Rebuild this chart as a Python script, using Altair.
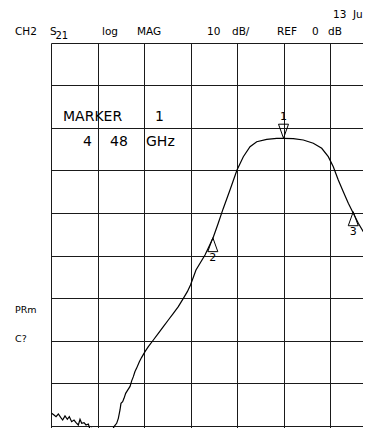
import altair as alt
import pandas as pd

FONT = "DejaVu Sans"

# S21 trace: x in graticule divisions from left edge, y in dB (10 dB/div)
trace_div = [0.014, 0.065, 0.108, 0.158, 0.208, 0.251, 0.301, 0.351, 0.394, 0.444,
             0.495, 0.538, 0.588, 0.624, 0.660, 0.710, 0.753, 0.803, 0.839, 0.875,
             0.910, 0.946, 0.982, 1.018,
             1.269, 1.305, 1.355, 1.412, 1.448, 1.484, 1.505, 1.541, 1.570, 1.606,
             1.642, 1.700, 1.735, 1.771, 1.806, 1.842, 1.900, 1.950, 2.022, 2.093,
             2.201, 2.308, 2.416, 2.523, 2.631, 2.738, 2.846, 2.932, 3.000, 3.118,
             3.312, 3.484, 3.591, 3.699, 3.849, 4.000, 4.136, 4.280, 4.424, 4.639,
             4.854, 4.996, 5.211, 5.426, 5.641, 5.822, 5.963, 6.071, 6.178, 6.286,
             6.394, 6.501, 6.609, 6.716, 6.882]
trace_db = [-87.14, -87.53, -87.92, -87.29, -88.08, -88.71, -87.76, -88.55, -87.92, -89.10,
            -88.71, -89.33, -89.88, -88.55, -89.49, -89.33, -89.88, -89.65, -90.90, -90.67,
            -91.69, -91.22, -91.84, -92.47,
            -92.47, -91.45, -90.27, -89.49, -88.31, -86.35, -84.78, -84.39, -83.61, -82.43,
            -81.80, -80.80, -79.50, -78.50, -77.30, -76.50, -74.98, -73.96, -72.63, -71.45,
            -69.88, -68.31, -66.75, -65.18, -63.61, -62.04, -60.08, -58.51, -56.94, -53.41,
            -49.88, -45.88, -42.59, -39.10, -34.59, -29.88, -26.75, -24.40, -23.22, -22.66,
            -22.42, -22.42, -22.52, -22.82, -23.60, -24.78, -26.75, -29.11, -32.24, -34.99,
            -37.72, -40.07, -42.42, -44.40, -47.13]

# markers
marker_ids = ["1", "2", "3"]
marker_div = [5.0, 3.48, 6.50]
marker_db = [-22.4, -45.8, -39.7]
marker_side = ["above", "below", "below"]

# graticule
x_lines = [0, 1, 2, 3, 4, 5, 6]
y_lines = [0, -10, -20, -30, -40, -50, -60, -70, -80, -90]

trace = pd.DataFrame({"div": trace_div, "db": trace_db, "i": list(range(len(trace_div)))})
markers = pd.DataFrame({"id": marker_ids, "div": marker_div, "db": marker_db, "side": marker_side})

W, H = 312, 385
X_MAX = W / 46.5
Y_MIN = -H / 4.25

xs = alt.Scale(domain=[0, X_MAX], nice=False, zero=False)
ys = alt.Scale(domain=[Y_MIN, 0], nice=False, zero=False)
grid_common = dict(grid=True, labels=False, ticks=False, domain=False, title=None,
                   gridColor="#1a1a1a", gridWidth=1, gridOpacity=1)
xaxis = alt.Axis(values=x_lines, **grid_common)
yaxis = alt.Axis(values=y_lines, **grid_common)


def X():
    return alt.X("div:Q", scale=xs, axis=xaxis)


def Y():
    return alt.Y("db:Q", scale=ys, axis=yaxis)


line = alt.Chart(trace).mark_line(color="black", strokeWidth=1.2, clip=True).encode(
    x=X(), y=Y(), order=alt.Order("i:Q"))

down_path = "M0,0L-1,-2.8L1,-2.8Z"
up_path = "M0,0L-1,2.8L1,2.8Z"

above = alt.Chart(markers).transform_filter(alt.datum.side == "above")
below = alt.Chart(markers).transform_filter(alt.datum.side == "below")

pts_above = above.mark_point(shape=down_path, filled=False, size=100, color="black",
                             strokeWidth=1, opacity=1).encode(x=X(), y=Y())
pts_below = below.mark_point(shape=up_path, filled=False, size=100, color="black",
                             strokeWidth=1, opacity=1).encode(x=X(), y=Y())
lab_above = above.mark_text(dy=-21, fontSize=11, font=FONT, color="black").encode(
    x=X(), y=Y(), text="id:N")
lab_below = below.mark_text(dy=20, fontSize=11, font=FONT, color="black").encode(
    x=X(), y=Y(), text="id:N")


def label(txt, px, py, size):
    return alt.Chart(alt.Data(values=[{}])).mark_text(
        text=txt, align="left", baseline="alphabetic", fontSize=size, font=FONT, color="black"
    ).encode(x=alt.value(px), y=alt.value(py))


labels = [
    label("CH2", -36, -8, 10.5),
    label("S", -1, -8, 10.5),
    label("21", 4.5, -4.5, 10),
    label("log", 51, -8, 10.5),
    label("MAG", 86, -8, 10.5),
    label("10", 156, -8, 10.5),
    label("dB/", 181, -8, 10.5),
    label("REF", 226, -8, 10.5),
    label("0", 261, -8, 10.5),
    label("dB", 277, -8, 10.5),
    label("13", 282, -25, 10.5),
    label("Ju", 302, -25, 10.5),
    label("MARKER", 12, 78, 14),
    label("1", 104, 78, 14),
    label("4", 32, 103, 14),
    label("48", 59, 103, 14),
    label("GHz", 95, 103, 14),
    label("PRm", -36, 270, 9.5),
    label("C?", -36, 299, 9.5),
]

chart = alt.layer(line, pts_above, pts_below, lab_above, lab_below, *labels).properties(
    width=W, height=H,
    padding={"left": 43, "top": 35, "right": 0, "bottom": 0},
    autosize=alt.AutoSizeParams(type="none"),
    background="white",
).configure_view(stroke=None)

chart.save("out.html", embed_options={"renderer": "svg", "actions": False})
